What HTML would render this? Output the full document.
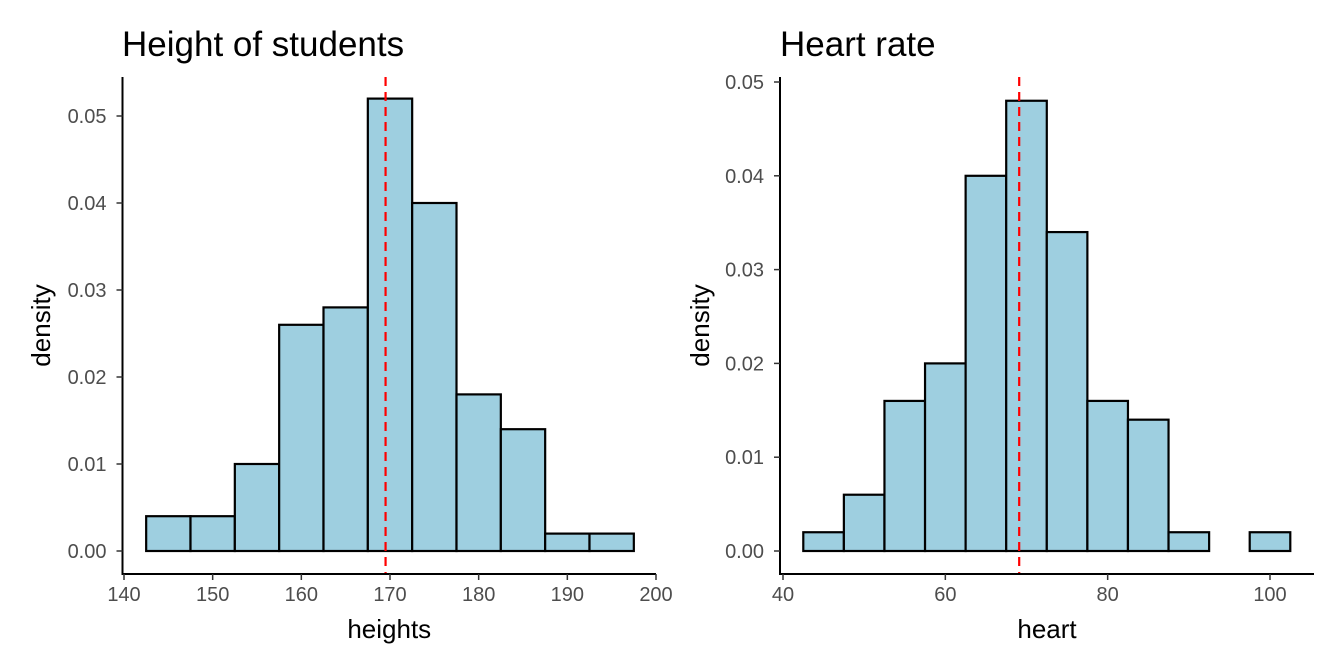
<!DOCTYPE html>
<html><head><meta charset="utf-8"><style>
body{margin:0;background:#fff;}
svg{display:block;font-family:"Liberation Sans",Arial,sans-serif;}
</style></head><body>
<svg id="c" width="1344" height="672" xmlns="http://www.w3.org/2000/svg"></svg>
<script>
const hBreaks=[142.5,147.5,152.5,157.5,162.5,167.5,172.5,177.5,182.5,187.5,192.5,197.5];
const hDensity=[0.004,0.004,0.010,0.026,0.028,0.052,0.040,0.018,0.014,0.002,0.002];
const hMean=169.5;
const hXTicks=[140,150,160,170,180,190,200];
const rBreaks=[42.5,47.5,52.5,57.5,62.5,67.5,72.5,77.5,82.5,87.5,92.5,97.5,102.5];
const rDensity=[0.002,0.006,0.016,0.020,0.040,0.048,0.034,0.016,0.014,0.002,0,0.002];
const rMean=69.1;
const rXTicks=[40,60,80,100];
const yTicks=[0,0.01,0.02,0.03,0.04,0.05];
const yLabels=["0.00","0.01","0.02","0.03","0.04","0.05"];
const NS="http://www.w3.org/2000/svg";
const svg=document.getElementById('c');
function mk(t,a,p){const e=document.createElementNS(NS,t);for(const k in a)e.setAttribute(k,a[k]);(p||svg).appendChild(e);return e;}
function panel(o){
  const g=mk('g',{});
  
  
  const x=v=>o.x0+(v-o.xv0)*(o.x1-o.x0)/(o.xv1-o.xv0);
  const y=v=>o.y0+(v)*(o.y1-o.y0)/0.05;
  o.dens.forEach((d,i)=>{
    const r=mk('rect',{x:x(o.br[i]),y:y(d),width:x(o.br[i+1])-x(o.br[i]),height:y(0)-y(d),fill:'#9ecfe0',stroke:'#000','stroke-width':2.2},g);
    
    
  });
  const m=mk('line',{x1:x(o.mean),x2:x(o.mean),y1:o.top,y2:o.bot,stroke:'#ff0000','stroke-width':2.2,'stroke-dasharray':'9,6'},g);
  
  
  const ax=mk('line',{x1:o.ax,x2:o.ax,y1:o.top,y2:o.bot+1,stroke:'#000','stroke-width':2},g);
  
  
  const bx=mk('line',{x1:o.ax-1,x2:o.axEnd,y1:o.bot,y2:o.bot,stroke:'#000','stroke-width':2},g);
  
  
  yTicks.forEach((t,i)=>{
    mk('line',{x1:o.ax-6,x2:o.ax,y1:y(t),y2:y(t),stroke:'#333','stroke-width':1.5},g);
    const tx=mk('text',{x:o.ax-16,y:y(t)+7,'text-anchor':'end','font-size':20,fill:'#4d4d4d'},g);
    tx.textContent=yLabels[i];
    
    
  });
  o.xt.forEach(t=>{
    mk('line',{x1:x(t),x2:x(t),y1:o.bot,y2:o.bot+6,stroke:'#333','stroke-width':1.5},g);
    const tx=mk('text',{x:x(t),y:o.bot+27,'text-anchor':'middle','font-size':20,fill:'#4d4d4d'},g);
    tx.textContent=t;
    
    
  });
  const xt=mk('text',{x:(o.ax+o.axEnd)/2,y:638,'text-anchor':'middle','font-size':26},g);
  xt.textContent=o.xlab;
  
  
  const yt=mk('text',{x:0,y:0,'text-anchor':'middle','font-size':26,transform:`translate(${o.ylx},${(o.top+o.bot)/2}) rotate(-90)`},g);
  yt.textContent='density';
  
  
  const tt=mk('text',{x:o.tx,y:56,'font-size':35},g);
  tt.textContent=o.title;
  
  
}
panel({name:'heights-panel',x0:124,x1:656,xv0:140,xv1:200,y0:551,y1:116,br:hBreaks,dens:hDensity,mean:hMean,xt:hXTicks,ax:122.5,axEnd:656,top:77,bot:574,xlab:'heights',ylx:50,tx:122,title:'Height of students'});
panel({name:'heart-panel',x0:783,x1:1270,xv0:40,xv1:100,y0:551,y1:82,br:rBreaks,dens:rDensity,mean:rMean,xt:rXTicks,ax:780,axEnd:1314,top:77,bot:574,xlab:'heart',ylx:709,tx:780,title:'Heart rate'});
</script>
</body></html>
